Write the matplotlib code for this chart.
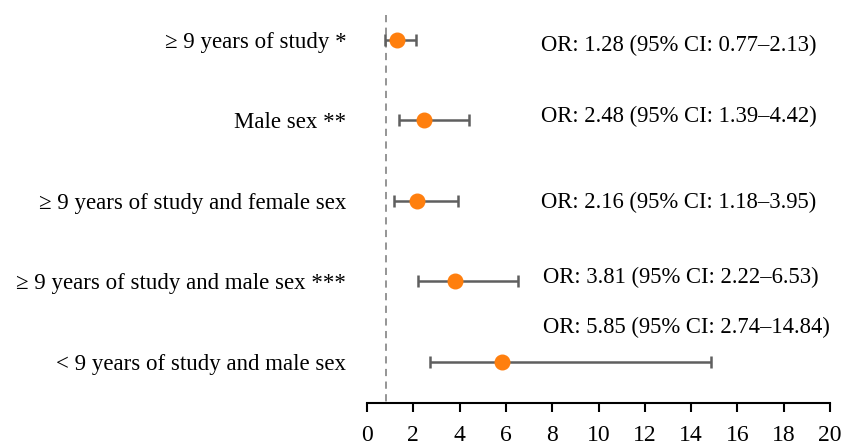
import matplotlib
matplotlib.use("Agg")
import matplotlib.pyplot as plt

labels = ["≥ 9 years of study *", "Male sex **", "≥ 9 years of study and female sex",
          "≥ 9 years of study and male sex ***", "< 9 years of study and male sex"]
odds = [1.28, 2.48, 2.16, 3.81, 5.85]
ci_low = [0.77, 1.39, 1.18, 2.22, 2.74]
ci_high = [2.13, 4.42, 3.95, 6.53, 14.84]
ref_line = 0.8
xticks = list(range(0, 21, 2))

plt.rcParams['font.family'] = ['Liberation Serif', 'DejaVu Serif']

fig = plt.figure(figsize=(8.43, 4.46), dpi=100)
ax = fig.add_axes([367/843, 1-403/446, (830-367)/843, (403-10)/446])

ypos = list(range(len(labels)))
err = [[o - l for o, l in zip(odds, ci_low)], [h - o for o, h in zip(odds, ci_high)]]
ax.vlines(ref_line, -0.31, 4.51, colors='#8c8c8c', linestyles=(0, (4, 3)), linewidth=1.3, zorder=1)
ax.errorbar(odds, ypos, xerr=err, fmt='o', color='#ff7f0e', ecolor='#5f5f5f',
            elinewidth=1.8, capsize=4.5, capthick=1.8, markersize=10.5, zorder=3)

text_x = [7.52, 7.52, 7.52, 7.6, 7.6]
text_dy = [0.075, -0.05, 0.025, -0.05, -0.43]
for i, (o, l, h) in enumerate(zip(odds, ci_low, ci_high)):
    ax.text(text_x[i], ypos[i] + text_dy[i], f"OR: {o:.2f} (95% CI: {l:.2f}–{h:.2f})",
            va='center', ha='left', fontsize=16.3)

ax.set_xlim(0, 20)
ax.set_ylim(4.51, -0.37)
ax.set_xticks(xticks)
ax.set_yticks(ypos)
ax.set_yticklabels(labels, fontsize=16.5)
ax.tick_params(axis='y', length=0, pad=15)
ax.tick_params(axis='x', length=6.5, width=1.5, labelsize=17, pad=9)
for s in ['left', 'right', 'top']:
    ax.spines[s].set_visible(False)
ax.spines['bottom'].set_linewidth(1.5)

fig.savefig("out.png", dpi=100)
